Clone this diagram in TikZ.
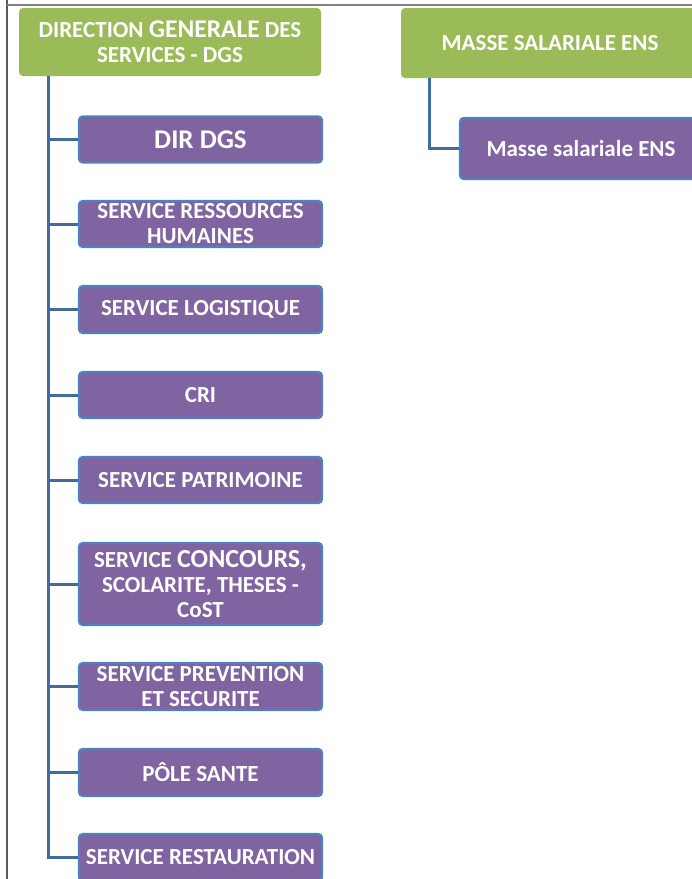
\documentclass[tikz,border=0pt]{standalone}
\usepackage{fontspec}
\setmainfont{Carlito}
\definecolor{dirgreen}{RGB}{155,187,89}
\definecolor{servpurple}{RGB}{128,100,162}
\definecolor{servblue}{RGB}{79,129,189}
\definecolor{linkblue}{RGB}{65,108,158}
\tikzset{
    dirbox/.style={rectangle, rounded corners=4pt, fill=dirgreen, text=white,
        font=\bfseries\fontsize{23}{25}\selectfont, align=center, inner sep=0pt},
    servbox/.style={rectangle, rounded corners=4pt, fill=servpurple, draw=servblue,
        line width=2.4pt, text=white, font=\bfseries\fontsize{23}{25}\selectfont,
        align=center, inner sep=0pt, minimum width=243, minimum height=46},
    link/.style={draw=linkblue, line width=3pt},
    frame/.style={draw=gray!70!black, line width=1.2pt}
}
\begin{document}
\begin{tikzpicture}[x=1pt,y=-1pt]
    \clip (0,0) rectangle (692,879);
    \useasboundingbox (0,0) rectangle (692,879);
    \draw[frame] (7,0) -- (7,879);
    \draw[frame, draw=gray] (7,5) -- (692,5);
    \coordinate (trunk) at (48,0);
    \coordinate (trunkb) at (429,0);
    \node[dirbox, minimum width=302, minimum height=68] (dgs) at (170,42)
        {DIRECTION {\fontsize{25.5}{25}\selectfont GENERALE} DES\\SERVICES - DGS};
    \node[dirbox, minimum width=298, minimum height=70] (masse) at (550,43)
        {MASSE SALARIALE ENS};
    \node[servbox, font=\bfseries\fontsize{27}{25}\selectfont] (dirdgs) at (200.5,139.5) {DIR DGS};
    \node[servbox] (rh) at (200.5,224) {SERVICE RESSOURCES\\HUMAINES};
    \node[servbox, minimum height=47] (logist) at (200.5,309.5) {SERVICE LOGISTIQUE};
    \node[servbox] (cri) at (200.5,395) {CRI};
    \node[servbox] (patri) at (200.5,480) {SERVICE PATRIMOINE};
    \node[servbox, minimum height=82] (concours) at (200.5,584)
        {SERVICE {\fontsize{26}{25}\selectfont CONCOURS,}\\SCOLARITE, THESES -\\CoST};
    \node[servbox, minimum height=47] (prev) at (200.5,686.5) {SERVICE PREVENTION\\ET SECURITE};
    \node[servbox, minimum height=47] (sante) at (200.5,772.5) {PÔLE SANTE};
    \node[servbox, minimum height=47] (resto) at (200.5,857.5) {SERVICE RESTAURATION};
    \node[servbox, minimum width=242, minimum height=61] (msal) at (581,148.5) {Masse salariale ENS};
    \draw[link] (dgs.south -| trunk) |- (dirdgs.west);
    \draw[link] (dgs.south -| trunk) |- (rh.west);
    \draw[link] (dgs.south -| trunk) |- (logist.west);
    \draw[link] (dgs.south -| trunk) |- (cri.west);
    \draw[link] (dgs.south -| trunk) |- (patri.west);
    \draw[link] (dgs.south -| trunk) |- (concours.west);
    \draw[link] (dgs.south -| trunk) |- (prev.west);
    \draw[link] (dgs.south -| trunk) |- (sante.west);
    \draw[link] (dgs.south -| trunk) |- (resto.west);
    \draw[link] (masse.south -| trunkb) |- (msal.west);
\end{tikzpicture}
\end{document}
